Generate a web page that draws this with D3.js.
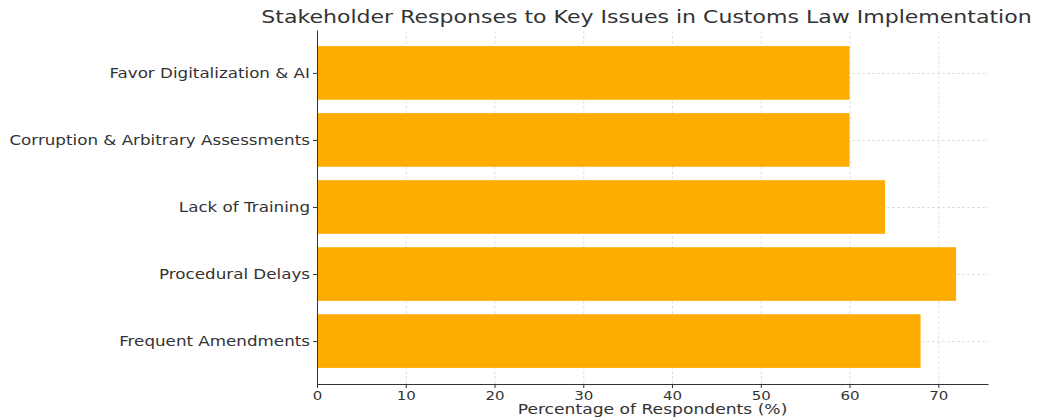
<!DOCTYPE html>
<html>
<head>
<meta charset="utf-8">
<script src="https://d3js.org/d3.v7.min.js"></script>
<style>
  body { margin: 0; background: #fff; font-family: "DejaVu Sans", sans-serif; }
  .grid line { stroke: #d8d8d8; stroke-dasharray: 3,2; stroke-width: 0.8; }
  .grid path { display: none; }
  .axis text { fill: #333; font-family: "DejaVu Sans", sans-serif; }
  .axis path, .axis line { stroke: #333; }
</style>
</head>
<body>
<div id="chart"></div>
<script>
// data (bottom to top order as drawn)
const categories = ["Frequent Amendments", "Procedural Delays", "Lack of Training",
                    "Corruption & Arbitrary Assessments", "Favor Digitalization & AI"];
const values = [68, 72, 64, 60, 60];
const xTicks = [0, 10, 20, 30, 40, 50, 60, 70];

const W = 1046, H = 417;
const margin = {top: 30, right: 58, bottom: 33, left: 317};
const width = W - margin.left - margin.right,
      height = H - margin.top - margin.bottom;

// the reference text looks stretched sideways a bit
const stretch = 1.24;

const svg = d3.select("#chart").append("svg")
    .attr("width", W).attr("height", H);

const g = svg.append("g")
    .attr("transform", `translate(${margin.left},${margin.top})`);

const x = d3.scaleLinear()
    .domain([0, d3.max(values) * 1.05])
    .range([0, width]);

// matplotlib-ish y: bars at 0..n-1, height 0.8, margins 5%
const n = categories.length;
const lo = -0.4 - 0.05 * (n - 0.2), hi = n - 1 + 0.4 + 0.05 * (n - 0.2);
const y = d3.scaleLinear().domain([lo, hi]).range([height, 0]);
const bh = y(0) - y(0.8);

// grid
g.append("g").attr("class", "grid")
  .attr("transform", `translate(0,${height})`)
  .call(d3.axisBottom(x).tickValues(xTicks).tickSize(-height).tickFormat(""));
g.append("g").attr("class", "grid")
  .call(d3.axisLeft(y).tickValues(d3.range(n)).tickSize(-width).tickFormat(""));

// bars
g.selectAll(".bar")
  .data(values)
  .enter().append("rect")
    .attr("class", "bar")
    .attr("x", x(0))
    .attr("y", (d, i) => y(i) - bh / 2)
    .attr("width", d => x(d) - x(0))
    .attr("height", bh)
    .attr("fill", "#ffac00");

// axes
g.append("g").attr("class", "axis")
  .attr("transform", `translate(0,${height})`)
  .call(d3.axisBottom(x).tickValues(xTicks).tickSize(4).tickPadding(3).tickSizeOuter(0))
  .selectAll("text")
    .style("font-size", "12.5px")
    .attr("transform", "scale(1.2,1)");

g.append("g").attr("class", "axis")
  .call(d3.axisLeft(y).tickValues(d3.range(n)).tickFormat(i => categories[i])
        .tickSize(4).tickSizeOuter(0))
  .selectAll("text")
    .style("font-size", "13.5px")
    .attr("x", 0)
    .attr("transform", `translate(-7,0) scale(${stretch},1)`);

// labels
svg.append("text")
  .attr("transform", `translate(${margin.left + width / 2},414) scale(1.27,1)`)
  .attr("text-anchor", "middle")
  .attr("fill", "#333")
  .style("font-size", "13.5px")
  .text("Percentage of Respondents (%)");

svg.append("text")
  .attr("transform", `translate(${margin.left + width / 2 - 6},23) scale(1.225,1)`)
  .attr("text-anchor", "middle")
  .attr("fill", "#333")
  .style("font-size", "18px")
  .text("Stakeholder Responses to Key Issues in Customs Law Implementation");
</script>
</body>
</html>
